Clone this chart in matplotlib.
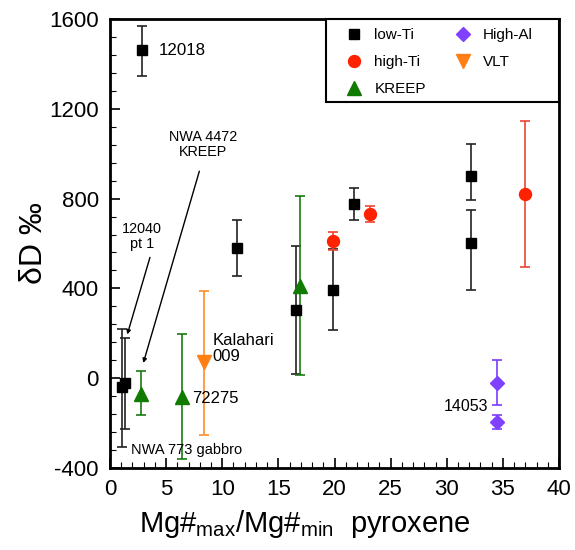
import matplotlib
matplotlib.use("Agg")
import matplotlib.pyplot as plt
from matplotlib.ticker import MultipleLocator
from matplotlib.patches import Rectangle

plt.rcParams['font.family'] = ['Liberation Sans', 'DejaVu Sans']
plt.rcParams['mathtext.fontset'] = 'custom'
plt.rcParams['mathtext.rm'] = 'Liberation Sans'
plt.rcParams['mathtext.it'] = 'Liberation Sans'
plt.rcParams['axes.unicode_minus'] = False

# ---- data ----
lowTi_x = [2.82, 1.07, 1.36, 11.3, 16.6, 19.9, 21.7, 32.2, 32.2]
lowTi_y = [1460, -40, -20, 580, 305, 395, 775, 900, 600]
lowTi_lo = [115, 265, 205, 125, 285, 180, 70, 105, 205]
lowTi_hi = [110, 260, 200, 125, 285, 180, 70, 145, 150]

highTi_x = [19.9, 23.2, 37.0]
highTi_y = [610, 732, 820]
highTi_err = [40, 35, 325]

kreep_x = [2.8, 6.45, 16.9]
kreep_y = [-70, -85, 410]
kreep_lo = [95, 277, 398]
kreep_hi = [100, 280, 400]

vlt_x = [8.4]
vlt_y = [70]
vlt_lo = [324]
vlt_hi = [319]

highAl_x = [34.45, 34.45]
highAl_y = [-20, -195]
highAl_lo = [100, 32]
highAl_hi = [100, 33]

x_ticks = [0, 5, 10, 15, 20, 25, 30, 35, 40]
y_ticks = [-400, 0, 400, 800, 1200, 1600]

# ---- figure ----
fig = plt.figure(figsize=(5.75, 5.5), dpi=100)
ax = fig.add_axes([0.1913, 0.1491, 0.7809, 0.8164])

ekw = dict(fmt='none', capsize=3.8, elinewidth=1.2, capthick=1.2)
ax.errorbar(lowTi_x, lowTi_y, yerr=[lowTi_lo, lowTi_hi], ecolor='#222222', **ekw)
ax.errorbar(highTi_x, highTi_y, yerr=highTi_err, ecolor='#ee4433', **ekw)
ax.errorbar(kreep_x, kreep_y, yerr=[kreep_lo, kreep_hi], ecolor='#1a7a10', **ekw)
ax.errorbar(vlt_x, vlt_y, yerr=[vlt_lo, vlt_hi], ecolor='#ff8c2a', **ekw)
ax.errorbar(highAl_x, highAl_y, yerr=[highAl_lo, highAl_hi], ecolor='#7a3cff', **ekw)

ax.plot(lowTi_x, lowTi_y, 's', color='black', ms=7.5, ls='none', label='low-Ti')
ax.plot(highTi_x, highTi_y, 'o', color='#ff2200', ms=8.6, ls='none', label='high-Ti')
ax.plot(kreep_x, kreep_y, '^', color='#117a00', ms=10, ls='none', label='KREEP')
ax.plot(highAl_x, highAl_y, 'D', color='#8040ff', ms=7.3, ls='none', label='High-Al')
ax.plot(vlt_x, vlt_y, 'v', color='#ff7f15', ms=9.8, ls='none', label='VLT')

ax.set_xlim(0, 40)
ax.set_ylim(-400, 1600)
ax.set_xticks(x_ticks)
ax.set_yticks(y_ticks)
ax.xaxis.set_minor_locator(MultipleLocator(1))
ax.yaxis.set_minor_locator(MultipleLocator(80))
ax.tick_params(which='both', direction='in', top=False, right=False, labelsize=16)
ax.tick_params(axis='y', pad=8)
ax.tick_params(axis='x', pad=8)
ax.tick_params(which='major', length=7, width=1.2)
ax.tick_params(which='minor', length=4, width=0.8)
for s in ax.spines.values():
    s.set_linewidth(2)

ax.set_ylabel('δD ‰', fontsize=23, labelpad=0)
ax.set_xlabel(r'Mg#$_{\mathrm{max}}$/Mg#$_{\mathrm{min}}$  pyroxene', fontsize=21)
ax.xaxis.set_label_coords(0.435, -0.088)

# ---- annotations ----
ax.text(4.3, 1460, '12018', fontsize=12.2, va='center', ha='left')
ax.text(8.26, 1042, 'NWA 4472\nKREEP', fontsize=10.4, ha='center', va='center', linespacing=1.1)
ax.annotate('', xy=(2.97, 68), xytext=(7.96, 922),
            arrowprops=dict(arrowstyle='-|>', color='black', lw=1, mutation_scale=6, shrinkA=0, shrinkB=0))
ax.text(2.82, 633, '12040\npt 1', fontsize=10.4, ha='center', va='center', linespacing=1.1)
ax.annotate('', xy=(1.54, 195), xytext=(3.56, 538),
            arrowprops=dict(arrowstyle='-|>', color='black', lw=1, mutation_scale=6, shrinkA=0, shrinkB=0))
ax.text(9.15, 131, 'Kalahari\n009', fontsize=12, ha='left', va='center', linespacing=1.05)
ax.text(7.28, -90, '72275', fontsize=12, ha='left', va='center')
ax.text(1.87, -318, 'NWA 773 gabbro', fontsize=10.5, ha='left', va='center')
ax.text(33.7, -125, '14053', fontsize=11.5, ha='right', va='center')

# legend box
ax.add_patch(Rectangle((0.482, 0.815), 0.518, 0.185, transform=ax.transAxes,
                       facecolor='white', edgecolor='black', linewidth=1.5, zorder=4, clip_on=False))
leg = ax.legend(loc='upper left', bbox_to_anchor=(0.519, 0.98), borderaxespad=0, borderpad=0,
                ncol=2, fontsize=11, frameon=False,
                handletextpad=0.55, columnspacing=1.7, labelspacing=0.86, handlelength=1.5)
leg.set_zorder(5)

fig.savefig('out.png', dpi=100)
